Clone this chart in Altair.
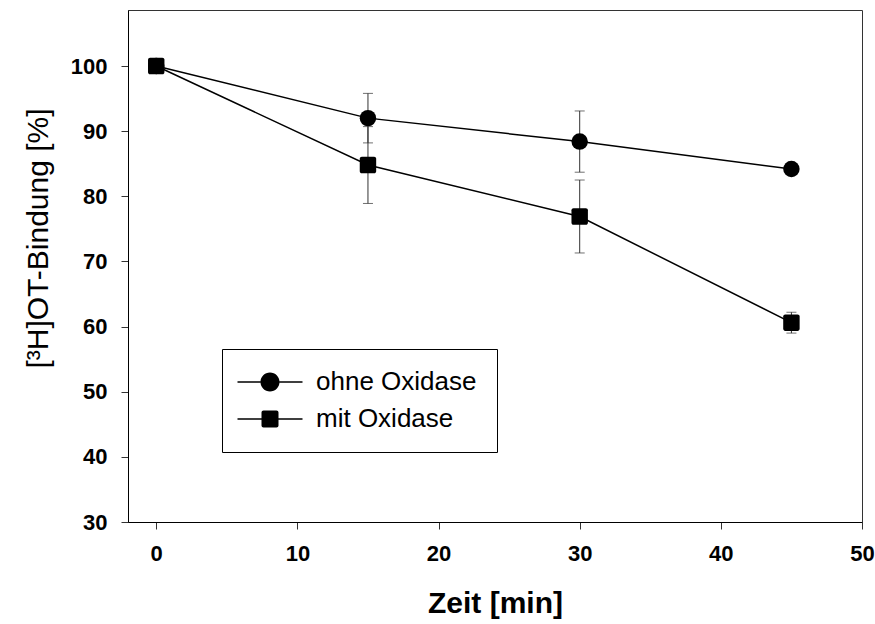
import altair as alt
import pandas as pd

# ---- data ----
time = [0, 15, 30, 45]
series_names = ["ohne Oxidase", "mit Oxidase"]
ohne = [100.0, 92.0, 88.4, 84.2]
ohne_err = [0.0, 3.8, 4.7, 0.0]
mit = [100.0, 84.8, 76.9, 60.6]
mit_err = [0.0, 5.9, 5.6, 1.6]
x_ticks = [0, 10, 20, 30, 40, 50]
y_ticks = [30, 40, 50, 60, 70, 80, 90, 100]

rows = []
for t, v, e in zip(time, ohne, ohne_err):
    rows.append({"t": t, "v": v, "lo": v - e, "hi": v + e, "err": e, "series": series_names[0]})
for t, v, e in zip(time, mit, mit_err):
    rows.append({"t": t, "v": v, "lo": v - e, "hi": v + e, "err": e, "series": series_names[1]})
df = pd.DataFrame(rows)

FONT = "Liberation Sans"

SQUARE = ("M-0.75,-1H0.75A0.25,0.25,0,0,1,1,-0.75V0.75A0.25,0.25,0,0,1,0.75,1"
          "H-0.75A0.25,0.25,0,0,1,-1,0.75V-0.75A0.25,0.25,0,0,1,-0.75,-1Z")
# legend glyphs: filled bars (line) on both sides of the marker
BARS_C = "M-3.25,-0.075H-0.95V0.075H-3.25ZM0.95,-0.075H3.25V0.075H0.95Z"
BARS_S = "M-3.25,-0.075H-0.85V0.075H-3.25ZM0.85,-0.075H3.25V0.075H0.85Z"
LEG_CIRCLE = BARS_C + "M-0.95,0A0.95,0.95,0,1,1,0.95,0A0.95,0.95,0,1,1,-0.95,0Z"
LEG_SQUARE = BARS_S + ("M-0.65,-0.85H0.65A0.2,0.2,0,0,1,0.85,-0.65V0.65A0.2,0.2,0,0,1,0.65,0.85"
                       "H-0.65A0.2,0.2,0,0,1,-0.85,0.65V-0.65A0.2,0.2,0,0,1,-0.65,-0.85Z")

x_scale = alt.Scale(domain=[-2, 50], nice=False, zero=False)
y_scale = alt.Scale(domain=[30, 108.6], nice=False, zero=False)

x_enc = alt.X("t:Q", scale=x_scale,
              axis=alt.Axis(values=x_ticks, title="Zeit [min]", grid=False, labelFlush=False,
                            tickSize=7, labelPadding=14, labelFontSize=22, labelFontWeight="bold",
                            labelFont=FONT, titleFont=FONT, titleFontSize=30, titleFontWeight="bold",
                            titleBaseline="alphabetic", titleY=90, titlePadding=0,
                            domainColor="black", tickColor="#333", labelColor="black", titleColor="black"))
y_enc = alt.Y("lo:Q", scale=y_scale,
              axis=alt.Axis(values=y_ticks, title="[³H]OT-Bindung [%]", grid=False, labelFlush=False,
                            tickSize=7, labelPadding=14, labelFontSize=22, labelFontWeight="bold",
                            labelFont=FONT, titleFont=FONT, titleFontSize=30, titleFontWeight="normal",
                            titleBaseline="alphabetic", titleAngle=270, titleX=-81, titleY=228,
                            domainColor="black", tickColor="#333", labelColor="black", titleColor="black"))

base = alt.Chart(df)
errs = base.transform_filter("datum.err > 0")

rules = errs.mark_rule(color="#333", strokeWidth=1).encode(
    x=x_enc, y=y_enc, y2="hi:Q")
cap_lo = errs.mark_tick(color="#333", thickness=1, size=10, orient="horizontal").encode(
    x="t:Q", y=alt.Y("lo:Q"))
cap_hi = errs.mark_tick(color="#333", thickness=1, size=10, orient="horizontal").encode(
    x="t:Q", y=alt.Y("hi:Q"))

lines = base.mark_line(color="black", strokeWidth=1.5).encode(
    x="t:Q", y="v:Q", detail="series:N")

points = base.mark_point(filled=True, color="black", opacity=1, size=270).encode(
    x="t:Q", y="v:Q",
    shape=alt.Shape("series:N", scale=alt.Scale(domain=series_names, range=["circle", SQUARE]),
                    legend=None))

legend_layer = base.transform_filter("false").mark_point(
    filled=True, color="black", opacity=1).encode(
    x="t:Q", y="v:Q",
    shape=alt.Shape("series:N",
                    scale=alt.Scale(domain=series_names, range=[LEG_CIRCLE, LEG_SQUARE]),
                    legend=alt.Legend(title=None, orient="none", legendX=94, legendY=339,
                                      strokeColor="black", fillColor="white", padding=20,
                                      symbolSize=400, symbolOffset=15, labelOffset=33,
                                      symbolFillColor="black", symbolStrokeColor="black",
                                      symbolStrokeWidth=0, symbolOpacity=1, rowPadding=11,
                                      labelFont=FONT, labelFontSize=26, labelColor="black",
                                      labelLimit=400)))

chart = alt.layer(rules, cap_lo, cap_hi, lines, points, legend_layer).resolve_scale(
    shape="independent"
).properties(
    width=734, height=512,
    padding={"left": 128, "top": 10, "right": 13, "bottom": 102},
    autosize=alt.AutoSizeParams(type="none"),
    background="white",
).configure_view(stroke="#333", strokeWidth=1)

chart.save("out.html", embed_options={"renderer": "svg", "actions": False})
